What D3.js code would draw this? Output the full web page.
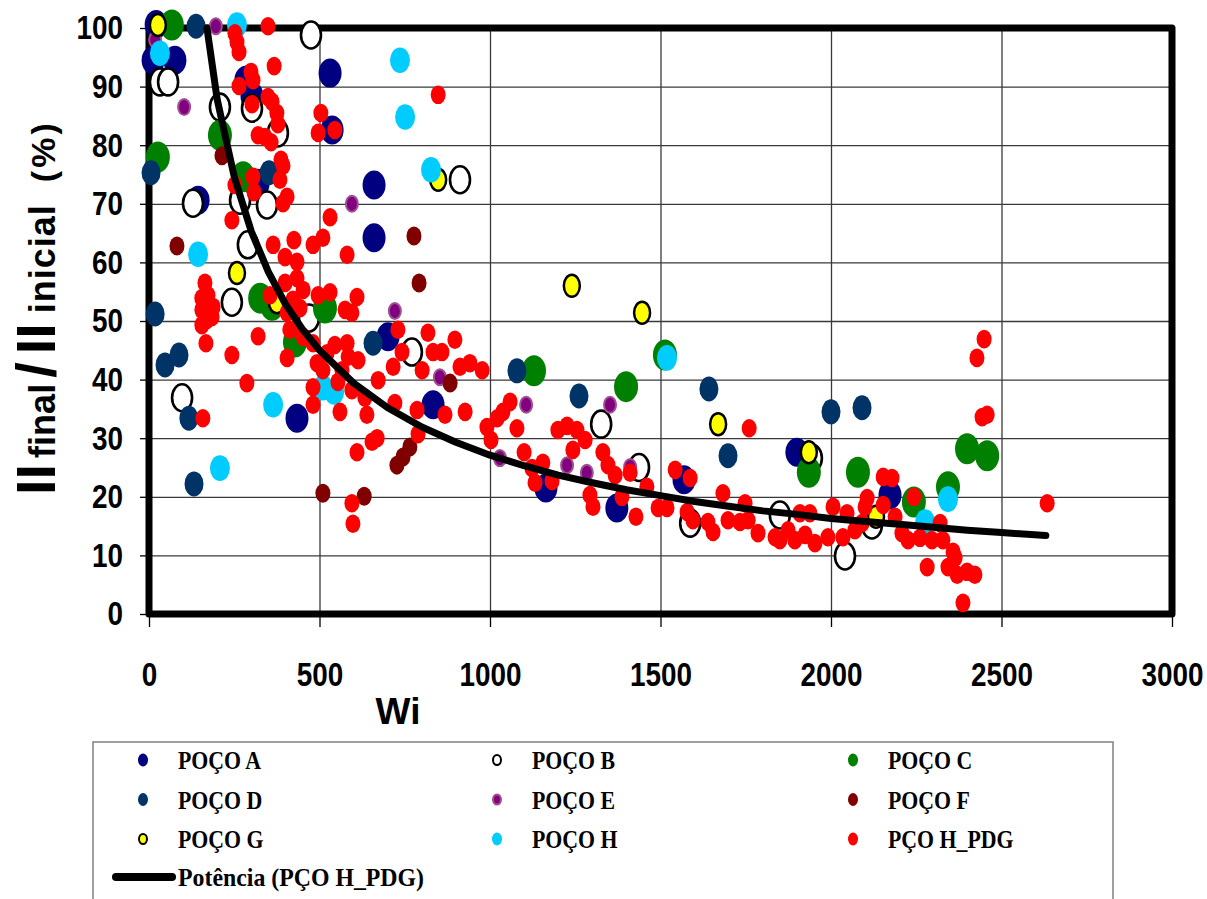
<!DOCTYPE html>
<html>
<head>
<meta charset="utf-8">
<script src="https://cdn.jsdelivr.net/npm/d3@7/dist/d3.min.js"></script>
<style>
  body { margin: 0; background: #fff; }
</style>
</head>
<body>
<div class="chart"></div>
<script>
// values: [Wi, II final / II inicial (%)]
var pocoA = [[12,94.5],[76,94.5],[21,100.6],[531,92.3],[284,91.1],[302,88.4],[537,82.6],[144,70.6],[320,73.5],[660,73.2],[660,64.2],[701,47.3],[434,33.4],[833,35.7],[1164,21.5],[1372,18.1],[1569,22.9],[1900,27.6],[2173,20.3]];
var pocoB = [[475,98.8],[32,90.8],[56,90.8],[208,86.5],[302,86.3],[378,82.1],[129,70.1],[267,70.6],[346,69.8],[290,63.0],[243,53.2],[469,50.5],[771,44.7],[97,36.9],[912,74.1],[1326,32.4],[1437,25.0],[1587,15.5],[1850,16.9],[1944,26.6],[2041,9.9],[2120,15.2]];
var pocoC = [[67,100.5],[26,78.0],[208,81.7],[276,74.6],[326,53.9],[361,52.7],[428,46.4],[516,52.2],[1129,41.5],[1399,38.8],[1513,44.2],[1935,24.2],[2079,24.2],[2243,19.1],[2343,21.7],[2399,28.2],[2458,27.0]];
var pocoD = [[138,100.3],[6,75.3],[352,75.3],[18,51.2],[47,42.5],[88,44.2],[117,33.4],[132,22.2],[657,46.2],[1079,41.5],[1261,37.2],[1642,38.4],[1698,27.0],[2000,34.5],[2091,35.2]];
var pocoE = [[18,98.0],[196,100.3],[103,86.5],[595,70.0],[721,51.7],[853,40.4],[1106,35.7],[1029,26.6],[1226,25.4],[1284,24.1],[1352,35.7],[1411,25.1]];
var pocoF = [[214,78.2],[82,62.8],[777,64.5],[792,56.5],[883,39.4],[510,20.6],[631,20.1],[727,25.4],[745,26.8],[765,28.5]];
var pocoG = [[26,100.5],[258,58.2],[375,53.2],[848,74.1],[1240,56.0],[1446,51.4],[1669,32.4],[1935,27.6],[2132,16.6]];
var pocoH = [[258,100.5],[32,95.7],[736,94.5],[751,84.8],[827,75.8],[144,61.4],[208,24.9],[364,35.7],[510,38.6],[543,37.9],[1519,43.7],[2343,19.6],[2276,15.7]];
var pcoHpdg = [
  [349,100.3],[252,99.1],[258,97.6],[264,95.9],[367,93.5],[299,92.5],[305,91.1],[264,90.1],[302,87.0],[349,88.2],
  [361,87.4],[375,85.5],[378,83.6],[320,81.7],[340,81.4],[358,80.5],[504,85.5],[496,82.1],[545,82.6],[387,77.5],
  [393,76.5],[848,88.6],[384,74.1],[252,73.2],[305,74.6],[308,72.0],[393,70.1],[405,71.2],[243,67.2],[531,67.7],
  [364,63.0],[425,63.8],[481,63.0],[510,64.2],[581,61.3],[399,60.9],[434,60.1],[164,56.5],[173,54.4],[155,53.9],
  [188,52.4],[155,51.9],[185,50.7],[355,54.4],[399,56.5],[434,57.3],[452,55.3],[422,53.6],[443,52.2],[405,51.4],
  [496,54.4],[531,54.9],[575,51.9],[610,54.1],[595,51.4],[170,50.2],[155,49.3],[167,46.2],[320,47.4],[243,44.2],
  [287,39.4],[158,33.4],[405,43.7],[413,48.5],[452,47.3],[481,46.2],[493,42.8],[510,41.6],[481,38.7],[481,35.7],
  [545,45.9],[581,46.2],[584,43.9],[613,43.3],[554,39.6],[595,38.2],[560,34.5],[633,36.9],[672,39.9],[716,42.2],
  [742,44.7],[730,48.5],[721,36.0],[639,34.0],[654,29.4],[669,30.0],[610,27.6],[566,41.6],[522,44.5],[595,18.9],
  [598,15.4],[818,48.0],[833,44.7],[859,44.7],[897,46.8],[801,41.6],[912,42.2],[941,42.8],[977,41.6],[786,34.8],
  [868,34.0],[927,34.5],[789,30.7],[1059,36.2],[1038,34.5],[1021,33.4],[991,31.9],[1003,29.7],[1079,31.7],[1100,27.6],
  [1123,24.9],[1132,22.4],[1155,25.8],[1182,22.7],[1199,31.4],[1226,32.1],[1255,31.4],[1279,29.7],[1243,28.0],[1331,27.6],
  [1346,25.4],[1367,23.7],[1411,24.1],[1293,20.3],[1302,18.3],[1387,20.0],[1428,16.6],[1460,21.7],[1493,18.1],[1519,18.1],
  [1543,24.6],[1587,23.2],[1578,17.4],[1595,16.0],[1639,15.7],[1654,14.0],[1683,20.6],[1698,16.0],[1733,15.7],[1748,18.9],
  [1757,16.0],[1786,13.8],[1836,13.1],[1874,14.3],[1894,12.6],[1760,31.7],[1850,12.6],[1909,17.2],[1924,13.5],[1938,17.2],
  [1953,12.1],[1991,13.1],[2006,18.3],[2035,13.1],[2047,17.2],[2070,14.3],[2091,15.5],[2100,18.3],[2106,19.8],[2153,23.4],
  [2179,23.2],[2153,18.6],[2188,16.6],[2208,13.8],[2226,12.6],[2243,20.0],[2261,13.0],[2296,12.6],[2320,15.5],[2328,12.6],
  [2358,10.6],[2364,9.6],[2343,8.0],[2370,6.7],[2282,8.0],[2399,7.2],[2422,6.7],[2387,1.9],[2449,46.9],[2428,43.7],
  [2443,33.6],[2458,34.0],[2634,18.9]
];
// Potência (PÇO H_PDG) trend line
var trendWi = [170,200,250,300,350,400,450,500,600,700,800,900,1000,1100,1200,1300,1400,1500,1600,1700,1800,1900,2000,2100,2200,2300,2400,2500,2630];
var trendPct = [100,87.8,74.6,65.3,58.4,52.9,48.6,45.0,39.4,35.2,31.9,29.3,27.1,25.3,23.7,22.4,21.2,20.2,19.2,18.4,17.6,17.0,16.3,15.8,15.3,14.8,14.3,13.9,13.4];

var xTicks = [0,500,1000,1500,2000,2500,3000];
var yTicks = [0,10,20,30,40,50,60,70,80,90,100];
var seriesNames = ["POÇO A","POÇO B","POÇO C","POÇO D","POÇO E","POÇO F","POÇO G","POÇO H","PÇO H_PDG"];
var trendName = "Potência (PÇO H_PDG)";

var width = 1207;
var height = 899;
var narrow = 0.82; // tick labels are a condensed bold face

// marker styles, same order as seriesNames
var styles = [
  { fill: "#000080", stroke: "none", sw: 0, rx: 11.5, ry: 14.5 },
  { fill: "#ffffff", stroke: "#000000", sw: 2.6, rx: 10, ry: 13.5 },
  { fill: "#008000", stroke: "none", sw: 0, rx: 12, ry: 15.5 },
  { fill: "#003366", stroke: "none", sw: 0, rx: 9.5, ry: 12.5 },
  { fill: "#800080", stroke: "#a0508f", sw: 2, rx: 6, ry: 8 },
  { fill: "#800000", stroke: "none", sw: 0, rx: 7.5, ry: 9.5 },
  { fill: "#ffff00", stroke: "#000000", sw: 2.5, rx: 8, ry: 11 },
  { fill: "#00ccff", stroke: "none", sw: 0, rx: 10, ry: 12.8 },
  { fill: "#ff0000", stroke: "none", sw: 0, rx: 7.5, ry: 9.3 }
];
var seriesData = [pocoA, pocoB, pocoC, pocoD, pocoE, pocoF, pocoG, pocoH, pcoHpdg];

var svg = d3.select(".chart")
  .append("svg")
  .attr("width", width)
  .attr("height", height)
  .style("font-family", "'Liberation Sans', Arial, sans-serif");

var xScale = d3.scaleLinear().domain([0, 3000]).range([149, 1172]);
var yScale = d3.scaleLinear().domain([0, 100]).range([614, 28]);

// Grid lines
svg.append("g")
  .attr("transform", "translate(0," + yScale(0) + ")")
  .call(d3.axisBottom(xScale).tickValues(xTicks).tickSize(-(yScale(0) - yScale(100))).tickFormat(""))
  .call(function (g) { g.select(".domain").remove(); })
  .selectAll("line").attr("stroke", "#3a3a3a").attr("stroke-width", 1.3);

svg.append("g")
  .attr("transform", "translate(" + xScale(0) + ",0)")
  .call(d3.axisLeft(yScale).tickValues(yTicks).tickSize(-(xScale(3000) - xScale(0))).tickFormat(""))
  .call(function (g) { g.select(".domain").remove(); })
  .selectAll("line").attr("stroke", "#3a3a3a").attr("stroke-width", 1.3);

// Axes with tick labels
var yAxis = svg.append("g")
  .attr("transform", "translate(" + xScale(0) + ",0)")
  .call(d3.axisLeft(yScale).tickValues(yTicks).tickFormat(d3.format("d"))
    .tickSizeInner(9).tickSizeOuter(0).tickPadding(17));
var xAxis = svg.append("g")
  .attr("transform", "translate(0," + yScale(0) + ")")
  .call(d3.axisBottom(xScale).tickValues(xTicks).tickFormat(d3.format("d"))
    .tickSizeInner(13).tickSizeOuter(0).tickPadding(35));

[yAxis, xAxis].forEach(function (ax) {
  ax.select(".domain").remove();
  ax.selectAll("line").attr("stroke", "#000").attr("stroke-width", 1.3);
  ax.selectAll("text")
    .attr("fill", "#000")
    .style("font-weight", "bold")
    .style("font-size", "34px")
    .attr("transform", "scale(" + narrow + ",1)");
});
yAxis.selectAll("text").attr("x", -26 / narrow);

// Thick plot frame
svg.append("rect")
  .attr("x", xScale(0))
  .attr("y", yScale(100))
  .attr("width", xScale(3000) - xScale(0))
  .attr("height", yScale(0) - yScale(100))
  .attr("fill", "none")
  .attr("stroke", "#000")
  .attr("stroke-width", 7)
  .attr("stroke-linejoin", "round");

// Points
seriesData.forEach(function (values, i) {
  var st = styles[i];
  svg.append("g")
    .attr("class", "series s" + i)
    .selectAll("ellipse")
    .data(values)
    .enter()
    .append("ellipse")
    .attr("cx", function (d) { return xScale(d[0]); })
    .attr("cy", function (d) { return yScale(d[1]); })
    .attr("rx", st.rx)
    .attr("ry", st.ry)
    .attr("fill", st.fill)
    .attr("stroke", st.stroke)
    .attr("stroke-width", st.sw);
});

// Power trend line
var trend = trendWi.map(function (w, i) { return [w, trendPct[i]]; });
var line = d3.line()
  .x(function (d) { return xScale(d[0]); })
  .y(function (d) { return yScale(d[1]); });
svg.append("path")
  .attr("d", line(trend))
  .attr("fill", "none")
  .attr("stroke", "#000")
  .attr("stroke-width", 7)
  .attr("stroke-linecap", "round")
  .attr("stroke-linejoin", "round");

// Axis titles
svg.append("text")
  .attr("x", 398)
  .attr("y", 724)
  .attr("text-anchor", "middle")
  .style("font-weight", "bold")
  .style("font-size", "37px")
  .text("Wi");

var yTitle = svg.append("text")
  .attr("transform", "translate(55,495) rotate(-90)")
  .attr("text-anchor", "start")
  .style("font-weight", "bold");
yTitle.append("tspan").style("font-size", "56px").text("II");
yTitle.append("tspan").style("font-size", "36px").attr("dx", 6).text("final");
yTitle.append("tspan").style("font-size", "56px").attr("dx", 6).text("/");
yTitle.append("tspan").style("font-size", "56px").attr("dx", 8).text("II");
yTitle.append("tspan").style("font-size", "36px").attr("dx", 10).style("letter-spacing", "1px").text("inicial");
yTitle.append("tspan").style("font-size", "34px").attr("dx", 22).style("letter-spacing", "3px").text("(%)");

// Legend
var legend = svg.append("g").attr("class", "legend");
legend.append("rect")
  .attr("x", 93)
  .attr("y", 742)
  .attr("width", 1020)
  .attr("height", 180)
  .attr("fill", "#fff")
  .attr("stroke", "#808080")
  .attr("stroke-width", 1.5);

var colX = [143, 497, 853];
var legendFont = "'Liberation Serif', 'Times New Roman', serif";
seriesNames.forEach(function (name, i) {
  var cx = colX[i % 3];
  var cy = 760 + Math.floor(i / 3) * 39.5;
  var st = styles[i];
  legend.append("ellipse")
    .attr("cx", cx).attr("cy", cy)
    .attr("rx", st.sw ? 4 : 5).attr("ry", st.sw ? 5 : 6.5)
    .attr("fill", st.fill)
    .attr("stroke", st.stroke)
    .attr("stroke-width", st.sw ? 2 : 0);
  var t = legend.append("text")
    .attr("x", cx + 35)
    .attr("y", cy + 9)
    .style("font-family", legendFont)
    .style("font-weight", "bold")
    .style("font-size", "26px")
    .text(name);
  var len = t.node().getComputedTextLength();
  t.attr("textLength", len * 0.84).attr("lengthAdjust", "spacingAndGlyphs");
});

legend.append("line")
  .attr("x1", 116).attr("x2", 172)
  .attr("y1", 877).attr("y2", 877)
  .attr("stroke", "#000")
  .attr("stroke-width", 8)
  .attr("stroke-linecap", "round");
var tt = legend.append("text")
  .attr("x", 178)
  .attr("y", 886)
  .style("font-family", legendFont)
  .style("font-weight", "bold")
  .style("font-size", "26px")
  .text(trendName);
tt.attr("textLength", 246).attr("lengthAdjust", "spacingAndGlyphs");
</script>
</body>
</html>
